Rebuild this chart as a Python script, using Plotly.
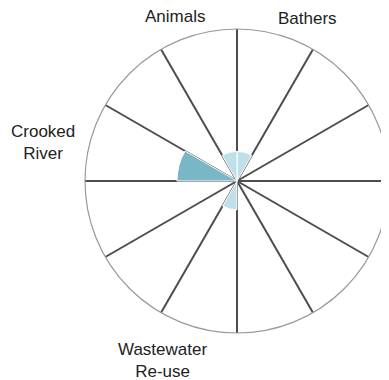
import plotly.graph_objects as go

# Data
sector_angles = [15, 45, 75, 105, 135, 165, 195, 225, 255, 285, 315, 345]
sector_values = [19.5, 0, 0, 0, 0, 0, 19, 0, 0, 39.5, 0, 19.5]
sector_colors = ["#bfe0e8", "#bfe0e8", "#bfe0e8", "#bfe0e8", "#bfe0e8", "#bfe0e8",
                 "#bfe0e8", "#bfe0e8", "#bfe0e8", "#79b6c6", "#bfe0e8", "#bfe0e8"]
spoke_angles = [0, 30, 60, 90, 120, 150, 180, 210, 240, 270, 300, 330]

label_text = ["Animals", "Bathers", "Crooked<br>River", "Wastewater<br>Re-use"]
label_x = [175, 307, 43, 162]
label_y = [17, 19, 142, 360]

# page body has an 8px margin, so the figure is offset by 8px
OFF = 8
W, H = 389 - OFF, 380 - OFF

fig = go.Figure()

fig.add_trace(go.Barpolar(
    theta=sector_angles,
    r=sector_values,
    width=[30] * len(sector_angles),
    marker=dict(color=sector_colors, line=dict(color="white", width=1)),
    showlegend=False,
    hoverinfo="skip"
))

for t, x, y in zip(label_text, label_x, label_y):
    fig.add_annotation(
        text=t, x=(x - OFF) / W, y=1 - (y - OFF) / H, xref="paper", yref="paper",
        xanchor="center", yanchor="middle", showarrow=False,
        font=dict(family="Liberation Sans, Arial", size=17, color="#222222")
    )

fig.update_layout(
    width=W,
    height=H,
    margin=dict(l=0, r=0, t=0, b=0),
    paper_bgcolor="white",
    plot_bgcolor="white",
    polar=dict(
        domain=dict(x=[(85 - OFF) / W, 1.0], y=[(H - (333 - OFF)) / H, (H - (29 - OFF)) / H]),
        bgcolor="white",
        radialaxis=dict(range=[0, 100], visible=False, showgrid=False),
        angularaxis=dict(
            direction="clockwise",
            rotation=90,
            tickmode="array",
            tickvals=spoke_angles,
            ticktext=[""] * len(spoke_angles),
            ticks="",
            showgrid=True,
            gridcolor="#4d4d4d",
            gridwidth=1.5,
            showline=True,
            linecolor="#999999",
            linewidth=1.2,
            layer="below traces"
        )
    )
)

fig.write_html("out.html")
